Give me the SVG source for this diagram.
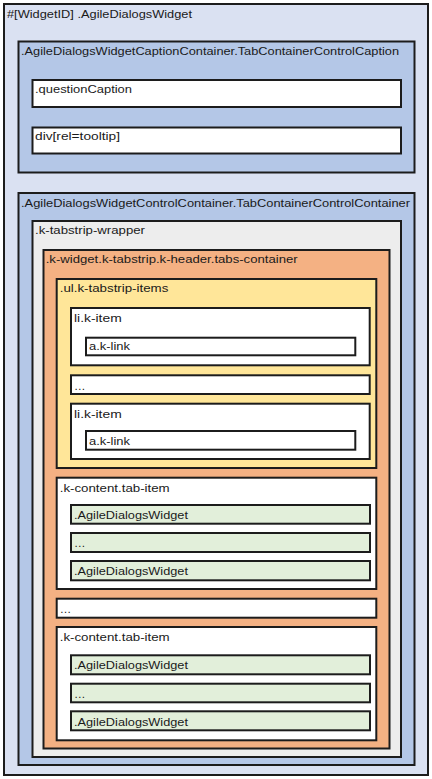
<svg xmlns="http://www.w3.org/2000/svg" width="432" height="779" viewBox="0 0 432 779">
<style>
rect{stroke:#1c1c1c;stroke-width:2}
text{font-family:"Liberation Sans","DejaVu Sans",sans-serif;font-size:11.5px;fill:#1a1a1a}
.l1{fill:#dae1f2}
.l2{fill:#b4c7e7}
.gr{fill:#ededed}
.or{fill:#f4b183}
.ye{fill:#ffe699}
.wh{fill:#ffffff}
.gn{fill:#e2efda}
</style>
<rect width="432" height="779" fill="#ffffff" style="stroke:none"/>
<g id="widget">
<rect class="l1" x="4" y="4" width="424" height="771"/>
<text x="7" y="18" textLength="185" lengthAdjust="spacingAndGlyphs">#[WidgetID] .AgileDialogsWidget</text>
</g>
<g id="caption-container">
<rect class="l2" x="18.5" y="41.5" width="396" height="131"/>
<text x="21" y="55.3" textLength="378" lengthAdjust="spacingAndGlyphs">.AgileDialogsWidgetCaptionContainer.TabContainerControlCaption</text>
</g>
<g id="question-caption">
<rect class="wh" x="32.5" y="80" width="368.5" height="27"/>
<text x="35" y="93" textLength="97" lengthAdjust="spacingAndGlyphs">.questionCaption</text>
</g>
<g id="tooltip">
<rect class="wh" x="32.5" y="127.5" width="368.5" height="26"/>
<text x="35" y="140" textLength="85" lengthAdjust="spacingAndGlyphs">div[rel=tooltip]</text>
</g>
<g id="control-container">
<rect class="l2" x="18.5" y="193" width="396" height="572"/>
<text x="21" y="206.7" textLength="389" lengthAdjust="spacingAndGlyphs">.AgileDialogsWidgetControlContainer.TabContainerControlContainer</text>
</g>
<g id="tabstrip-wrapper">
<rect class="gr" x="32.5" y="221" width="368.5" height="536"/>
<text x="35" y="234.3" textLength="110" lengthAdjust="spacingAndGlyphs">.k-tabstrip-wrapper</text>
</g>
<g id="tabs-container">
<rect class="or" x="43.5" y="250" width="346" height="498.5"/>
<text x="45.7" y="263.3" textLength="252" lengthAdjust="spacingAndGlyphs">.k-widget.k-tabstrip.k-header.tabs-container</text>
</g>
<g id="tabstrip-items">
<rect class="ye" x="56.7" y="279" width="319.6" height="189"/>
<text x="59.7" y="292.3" textLength="108.6" lengthAdjust="spacingAndGlyphs">.ul.k-tabstrip-items</text>
</g>
<g id="k-item-1">
<rect class="wh" x="71" y="308" width="298.7" height="57.3"/>
<text x="74" y="321.7" textLength="47.7" lengthAdjust="spacingAndGlyphs">li.k-item</text>
</g>
<g id="k-link-1">
<rect class="wh" x="86" y="337.7" width="269.3" height="17.6"/>
<text x="89" y="350" textLength="41" lengthAdjust="spacingAndGlyphs">a.k-link</text>
</g>
<g id="k-item-more">
<rect class="wh" x="71" y="375.3" width="298.7" height="18.7"/>
<text x="74" y="390">…</text>
</g>
<g id="k-item-2">
<rect class="wh" x="71" y="403.7" width="298.7" height="55.3"/>
<text x="74" y="417.7" textLength="47.7" lengthAdjust="spacingAndGlyphs">li.k-item</text>
</g>
<g id="k-link-2">
<rect class="wh" x="86" y="431" width="269.3" height="18.7"/>
<text x="89" y="445" textLength="41" lengthAdjust="spacingAndGlyphs">a.k-link</text>
</g>
<g id="tab-item-1">
<rect class="wh" x="56.7" y="477.7" width="319.6" height="111.3"/>
<text x="59.7" y="491.7" textLength="110" lengthAdjust="spacingAndGlyphs">.k-content.tab-item</text>
</g>
<g id="tab-1-widget-1">
<rect class="gn" x="71" y="505" width="299" height="18.7"/>
<text x="74" y="518.7" textLength="114" lengthAdjust="spacingAndGlyphs">.AgileDialogsWidget</text>
</g>
<g id="tab-1-widget-more">
<rect class="gn" x="71" y="533" width="299" height="19"/>
<text x="74" y="546.7">…</text>
</g>
<g id="tab-1-widget-2">
<rect class="gn" x="71" y="561" width="299" height="19.3"/>
<text x="74" y="575" textLength="114" lengthAdjust="spacingAndGlyphs">.AgileDialogsWidget</text>
</g>
<g id="tab-item-more">
<rect class="wh" x="56.7" y="598.7" width="319.6" height="19"/>
<text x="59.7" y="613.3">…</text>
</g>
<g id="tab-item-2">
<rect class="wh" x="56.7" y="627" width="319.6" height="113.3"/>
<text x="59.7" y="641" textLength="110" lengthAdjust="spacingAndGlyphs">.k-content.tab-item</text>
</g>
<g id="tab-2-widget-1">
<rect class="gn" x="71" y="655.3" width="299" height="19"/>
<text x="74" y="669.3" textLength="114" lengthAdjust="spacingAndGlyphs">.AgileDialogsWidget</text>
</g>
<g id="tab-2-widget-more">
<rect class="gn" x="71" y="683.7" width="299" height="18.6"/>
<text x="74" y="698.3">…</text>
</g>
<g id="tab-2-widget-2">
<rect class="gn" x="71" y="711.3" width="299" height="19"/>
<text x="74" y="725.7" textLength="114" lengthAdjust="spacingAndGlyphs">.AgileDialogsWidget</text>
</g>
<g id="connectors"/>
</svg>
